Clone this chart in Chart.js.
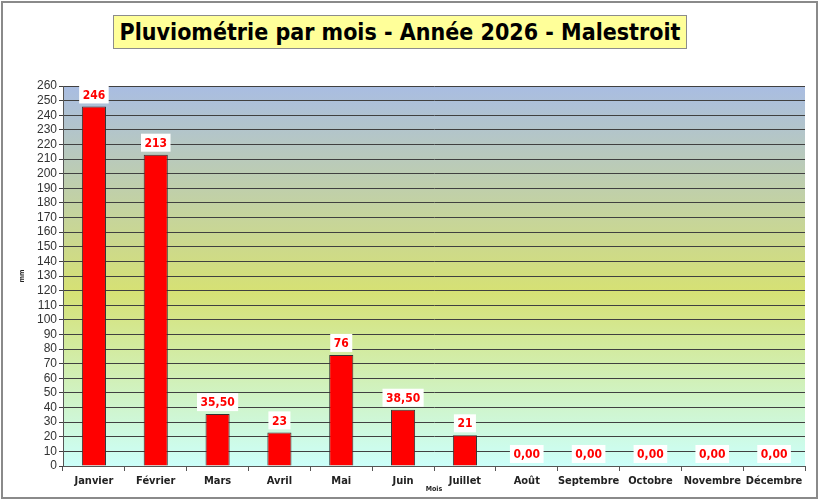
<!DOCTYPE html>
<html lang="fr">
<head>
    <meta charset="UTF-8">
    <title>Pluviométrie 2026</title>
    <script src="https://cdn.jsdelivr.net/npm/chart.js@4/dist/chart.umd.min.js"></script>
    <style>
        body { margin: 0; background: #fff; }
        .wrap { position: relative; width: 820px; height: 500px; }
        .title-box {
            position: absolute; left: 113px; top: 15px; width: 572px; height: 32px;
            background: #ffff99; border: 1px solid #8c8c8c;
            font: bold 23px "DejaVu Sans Condensed", "DejaVu Sans", sans-serif;
            line-height: 32px; text-align: center; color: #000; white-space: nowrap;
        }
    </style>
</head>
<body>
<div class="wrap">
    <canvas id="chart" width="820" height="500"></canvas>
    <div class="title-box">Pluviométrie par mois - Année 2026 - Malestroit</div>
</div>
<script>
    const months = ['Janvier', 'Février', 'Mars', 'Avril', 'Mai', 'Juin', 'Juillet', 'Août', 'Septembre', 'Octobre', 'Novembre', 'Décembre']
    const rain = [246, 213, 35.5, 23, 76, 38.5, 21, 0, 0, 0, 0, 0]
    const yMin = 0
    const yMax = 260
    const yStep = 10

    const condensed = '"DejaVu Sans Condensed", "DejaVu Sans", sans-serif'

    function fmt(v) {
        if (v !== 0 && Number.isInteger(v)) return String(v)
        return v.toFixed(2).replace('.', ',')
    }

    // white page + grey frame + gradient behind the plot
    const backdrop = {
        id: 'backdrop',
        beforeDraw(chart) {
            const {ctx, chartArea: a} = chart
            ctx.save()
            ctx.fillStyle = '#fff'
            ctx.fillRect(0, 0, chart.width, chart.height)
            ctx.strokeStyle = '#8a8a8a'
            ctx.lineWidth = 2
            ctx.strokeRect(2, 2, chart.width - 5, chart.height - 4)
            const g = ctx.createLinearGradient(0, a.top, 0, a.bottom)
            g.addColorStop(0, '#a9bde2')
            g.addColorStop(0.54, '#d6e174')
            g.addColorStop(1, '#ccfffa')
            ctx.fillStyle = g
            ctx.fillRect(a.left, a.top, a.right - a.left, a.bottom - a.top)
            ctx.restore()
        }
    }

    // value labels in white boxes above each bar
    const valueLabels = {
        id: 'valueLabels',
        afterDatasetsDraw(chart) {
            const {ctx} = chart
            const meta = chart.getDatasetMeta(0)
            ctx.save()
            ctx.font = 'bold 12px ' + condensed
            ctx.textAlign = 'center'
            ctx.textBaseline = 'middle'
            meta.data.forEach((bar, i) => {
                const txt = fmt(rain[i])
                const w = ctx.measureText(txt).width + 7
                const h = 18
                const bottom = bar.y - 3
                ctx.fillStyle = '#fff'
                ctx.fillRect(bar.x - w / 2, bottom - h, w, h)
                ctx.fillStyle = '#ff0000'
                ctx.fillText(txt, bar.x, bottom - h / 2 + 1)
            })
            ctx.restore()
        }
    }

    new Chart(document.getElementById('chart'), {
        type: 'bar',
        data: {
            labels: months,
            datasets: [{
                data: rain,
                backgroundColor: '#ff0000',
                borderColor: '#333',
                borderWidth: 1,
                barPercentage: 0.39,
                categoryPercentage: 1
            }]
        },
        options: {
            responsive: false,
            animation: false,
            layout: {padding: {top: 86, right: 15, bottom: 0, left: 0}},
            plugins: {
                legend: {display: false},
                tooltip: {enabled: false}
            },
            scales: {
                x: {
                    afterFit(s) { s.height = 34 },
                    grid: {display: true, drawOnChartArea: false, drawTicks: true, tickLength: 5, color: '#555', offset: true},
                    border: {display: true, color: '#555'},
                    ticks: {color: '#222', font: {family: condensed, size: 11, weight: 'bold'}, padding: 4, autoSkip: false, maxRotation: 0},
                    title: {display: true, text: 'Mois', color: '#222', font: {family: condensed, size: 7, weight: 'bold'}, padding: {bottom: 7}}
                },
                y: {
                    min: yMin,
                    max: yMax,
                    afterFit(s) { s.width = 63 },
                    grid: {color: '#404040', lineWidth: 1, tickLength: 4},
                    border: {display: true, color: '#555'},
                    ticks: {stepSize: yStep, autoSkip: false, color: '#333', font: {family: '"Liberation Sans", Arial, sans-serif', size: 12}, padding: 2},
                    title: {display: true, text: 'mm', color: '#222', font: {family: condensed, size: 7, weight: 'bold'}, padding: {top: 18}}
                }
            }
        },
        plugins: [backdrop, valueLabels]
    })
</script>
</body>
</html>
